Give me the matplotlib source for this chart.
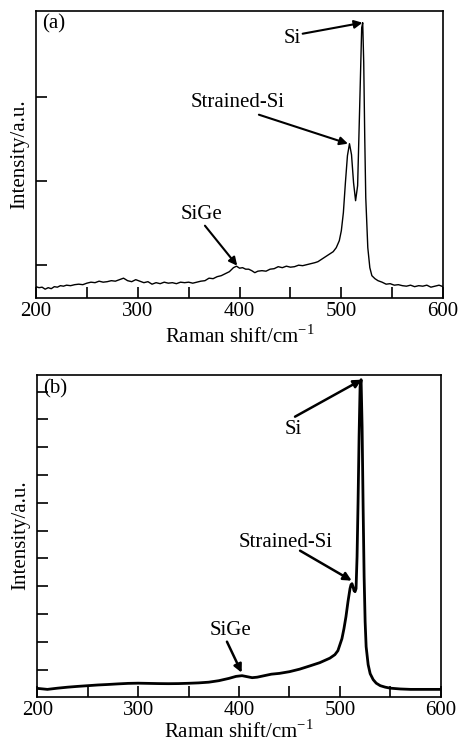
import numpy as np
import matplotlib
matplotlib.use('Agg')
import matplotlib.pyplot as plt

plt.rcParams['font.family'] = ['Liberation Serif', 'DejaVu Serif']
plt.rcParams['mathtext.fontset'] = 'custom'
plt.rcParams['mathtext.rm'] = 'Liberation Serif'

# panel (a): noisy spectrum (intensity in arbitrary units)
shift_a = [200, 203, 206, 209, 212, 215, 218, 221, 224, 227, 230, 234, 238, 242, 246,
           250, 254, 258, 262, 266, 270, 274, 278, 282, 286, 290, 294, 298, 302, 306,
           310, 314, 318, 322, 326, 330, 334, 338, 342, 346, 350, 354, 358, 362, 366,
           370, 374, 378, 382, 386, 390, 394, 397, 400, 403, 406, 409, 412, 415, 418,
           422, 426, 430, 434, 438, 442, 446, 450, 454, 458, 462, 466, 470, 474, 477,
           480, 483, 486, 489, 492, 495, 498, 500, 502, 504, 506, 508, 510, 512, 514,
           516, 518, 520, 521, 522, 523, 524, 526, 528, 530, 533, 536, 540, 544, 548,
           552, 556, 560, 564, 568, 572, 576, 580, 584, 588, 592, 596, 600]
intensity_a = [11, 10, 10.5, 8.5, 10, 9, 11, 10.5, 12, 11.5, 12.5, 12, 13, 13.5, 13,
               14.5, 15.5, 15, 16.5, 15.5, 16, 17, 16.5, 18, 19.5, 17, 16, 18, 16.5, 15,
               16, 13.5, 15, 14, 15.5, 14.5, 15, 14, 15.5, 15, 15.5, 14.5, 15.5, 16.5, 17,
               19.5, 19, 21, 22, 24, 26, 30, 31.5, 29.5, 30, 28.5, 28.5, 27, 25, 26.5,
               27, 26.5, 28.5, 29, 31, 30, 31.5, 30.5, 31, 32.5, 32, 33, 34, 35, 36,
               38, 40, 42, 44, 46, 50, 57, 67, 85, 115, 142, 154, 143, 115, 97,
               112, 190, 270, 275, 235, 160, 100, 50, 30, 22, 19, 17, 15.5, 13.5, 14,
               12.5, 13, 12, 11.5, 12.5, 11, 12, 11.5, 12.5, 10.5, 11.5, 12.5, 11]

# panel (b): smooth spectrum
shift_b = [200, 210, 220, 230, 240, 250, 260, 270, 280, 290, 300, 310, 320, 330, 340,
           350, 360, 370, 380, 390, 397, 403, 408, 413, 418, 425, 432, 440, 450, 460,
           470, 480, 490, 495, 498, 500, 502, 504, 506, 508, 510, 511, 512, 513, 514,
           515, 516, 517, 518, 519, 520, 521, 522, 523, 524, 525, 526, 528, 530, 533,
           536, 540, 545, 550, 560, 570, 580, 590, 600]
intensity_b = [8.3, 7.3, 8.5, 9.5, 10.3, 11, 11.7, 12.2, 12.8, 13.3, 13.5, 13.3, 13.1, 13, 13.1,
               13.4, 13.8, 14.5, 16, 18.3, 20.3, 21, 20, 19, 19.5, 21, 22.5, 23.3, 25, 27.5,
               30.7, 34, 38.5, 42, 46, 52, 58, 68, 80, 95, 108, 112, 113, 110, 106,
               105, 108, 140, 195, 260, 310, 317, 270, 190, 120, 75, 50, 32, 23, 17,
               13.5, 11, 9.5, 8.5, 7.7, 7.3, 7.3, 7.3, 7.3]

yticks_a = [33, 117, 201]
yticks_b = [27 + 27.8 * k for k in range(11)]

labels = ['Si', 'Strained-Si', 'SiGe']
# (text x, text y, arrow tail x, tail y, head x, head y)
ann_a = [(452, 259, 462, 264, 520.8, 275),
         (398, 195, 419, 183, 506.5, 154),
         (363, 83, 366, 72, 397.7, 32)]
ann_b = [(454, 267, 455.5, 280, 521.7, 317),
         (446, 154, 460.5, 146, 511.7, 116),
         (392, 66, 388, 55, 402.6, 24)]

FS = 15

fig = plt.figure(figsize=(4.59, 7.44), dpi=100)
ax_a = fig.add_axes([0.0784, 0.5999, 0.887, 0.3857])
ax_b = fig.add_axes([0.0813, 0.0636, 0.879, 0.4328])


def style(ax, ymax, yticks, tag, xpad):
    ax.set_xlim(200, 600)
    ax.set_ylim(0, ymax)
    ax.set_xticks([200, 300, 400, 500, 600])
    ax.set_xticks([250, 350, 450, 550], minor=True)
    ax.set_yticks(yticks)
    ax.set_yticklabels([])
    ax.tick_params(which='both', direction='in', length=8, width=1.2,
                   top=False, right=False, labelsize=FS, pad=3)
    for s in ax.spines.values():
        s.set_linewidth(1.2)
    ax.set_xlabel('Raman shift/cm$^{\\mathregular{-1}}$', fontsize=FS, labelpad=xpad)
    ax.set_ylabel('Intensity/a.u.', fontsize=FS, labelpad=2)
    ax.text(0.015, 0.955, tag, transform=ax.transAxes, fontsize=FS, va='center')


ax_a.plot(shift_a, intensity_a, color='black', lw=1.0)
style(ax_a, 287, yticks_a, '(a)', 3)
for lab, (tx, ty, ax0, ay0, hx, hy) in zip(labels, ann_a):
    ax_a.text(tx, ty, lab, fontsize=FS, ha='center', va='center')
    ax_a.annotate('', xy=(hx, hy), xytext=(ax0, ay0),
                  arrowprops=dict(arrowstyle='-|>', color='black', lw=1.5,
                                  mutation_scale=12, shrinkA=0, shrinkB=0))

ax_b.plot(shift_b, intensity_b, color='black', lw=2.0)
style(ax_b, 322, yticks_b, '(b)', 0.5)
for lab, (tx, ty, ax0, ay0, hx, hy) in zip(labels, ann_b):
    ax_b.text(tx, ty, lab, fontsize=FS, ha='center', va='center')
    ax_b.annotate('', xy=(hx, hy), xytext=(ax0, ay0),
                  arrowprops=dict(arrowstyle='-|>', color='black', lw=1.8,
                                  mutation_scale=12, shrinkA=0, shrinkB=0))

fig.savefig('out.png', dpi=100)
